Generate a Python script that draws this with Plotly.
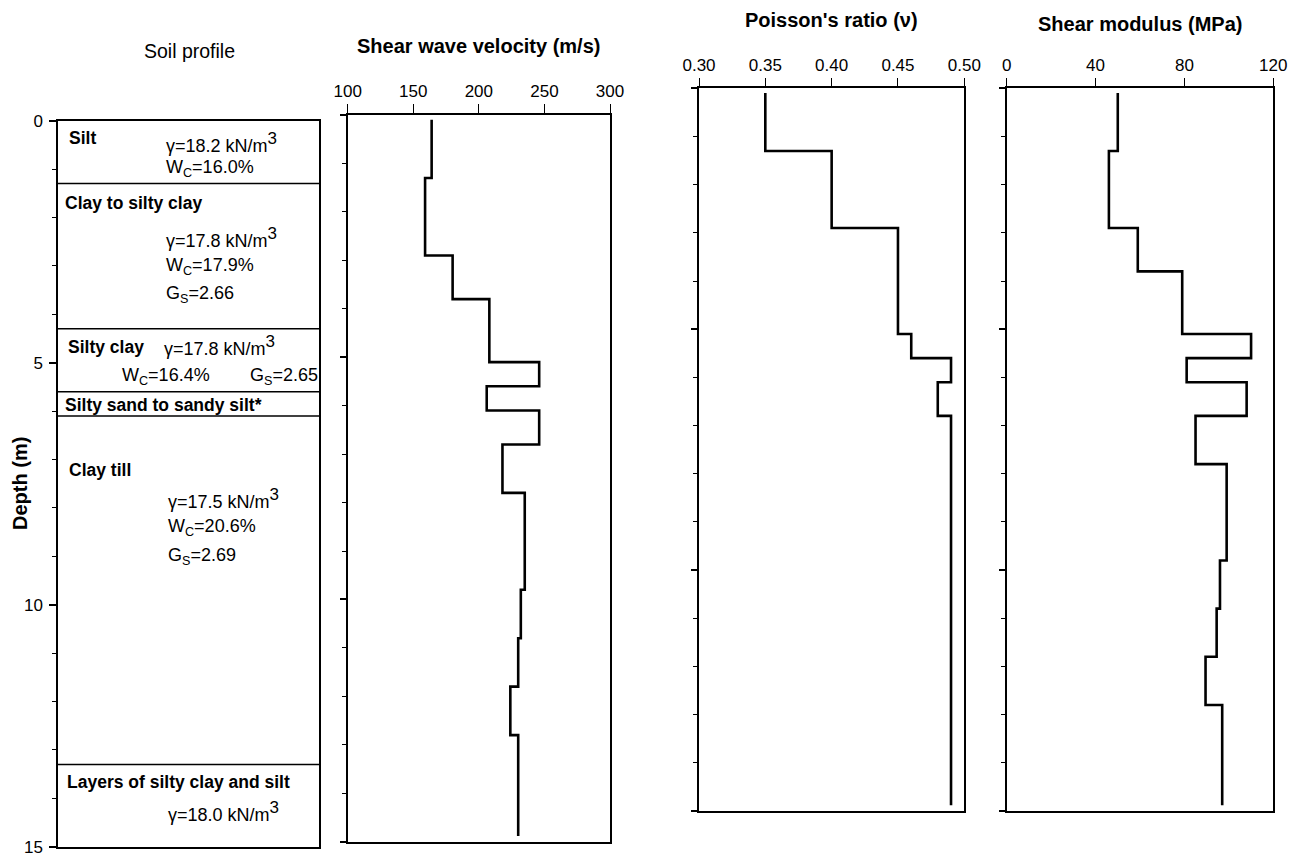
import plotly.graph_objects as go

W, H = 1299, 854
OFF = 8  # page body margin in the browser

# ---------------- data ----------------
layer_top_depth = [0.1, 1.3, 2.9, 3.8, 5.1, 5.6, 6.1, 6.8, 7.8, 9.8, 10.8, 11.8, 12.8]
profile_bottom_depth = 14.88
shear_wave_velocity = [164, 159, 180, 208, 246, 206, 246, 218, 235, 232, 230, 224, 230]
poisson_ratio = [0.35, 0.40, 0.45, 0.45, 0.46, 0.49, 0.48, 0.49, 0.49, 0.49, 0.49, 0.49, 0.49]
shear_modulus = [50, 46, 59, 79, 110, 81, 108, 85, 99, 96, 94.5, 89.5, 97]

soil_boundary_depth = [1.3, 4.3, 5.6, 6.1, 13.3]

depth_ticks = [0, 5, 10, 15]
vs_ticks = [100, 150, 200, 250, 300]
nu_ticks = [0.30, 0.35, 0.40, 0.45, 0.50]
g_ticks = [0, 40, 80, 120]

SUP3 = '<sup><span style="font-size:17px">3</span></sup>'
soil_names = ["Silt", "Clay to silty clay", "Silty clay",
              "Silty sand to sandy silt*", "Clay till",
              "Layers of silty clay and silt"]
soil_props = ["γ=18.2 kN/m" + SUP3, "W<sub>C</sub>=16.0%",
              "γ=17.8 kN/m" + SUP3, "W<sub>C</sub>=17.9%", "G<sub>S</sub>=2.66",
              "γ=17.8 kN/m" + SUP3, "W<sub>C</sub>=16.4%", "G<sub>S</sub>=2.65",
              "γ=17.5 kN/m" + SUP3, "W<sub>C</sub>=20.6%", "G<sub>S</sub>=2.69",
              "γ=18.0 kN/m" + SUP3]

# ---------------- layout helpers ----------------
FONT = "Liberation Sans, Arial, sans-serif"


def px_x(p):
    return (p - OFF) / W


def px_y(p):
    return 1 - (p - OFF) / H


def step_xy(values):
    return list(values) + [values[-1]], list(layer_top_depth) + [profile_bottom_depth]


fig = go.Figure()

for vals, xa, ya in [(shear_wave_velocity, "x2", "y2"),
                     (poisson_ratio, "x3", "y3"),
                     (shear_modulus, "x4", "y4")]:
    xs, ys = step_xy(vals)
    fig.add_trace(go.Scatter(x=xs, y=ys, xaxis=xa, yaxis=ya, mode="lines",
                             line=dict(color="black", width=2.6, shape="vh"),
                             showlegend=False, hoverinfo="skip"))

# invisible trace for the soil-profile axes
fig.add_trace(go.Scatter(x=[0, 1], y=[0, 15], xaxis="x", yaxis="y", mode="markers",
                         marker=dict(opacity=0), showlegend=False, hoverinfo="skip"))

LINE = dict(showline=True, linecolor="black", linewidth=1.5, mirror=True,
            showgrid=False, zeroline=False, automargin=False)

ydep_common = dict(range=[15, 0], tickmode="array", tickvals=depth_ticks,
                   ticks="outside", tickcolor="black", tickwidth=1.5,
                   minor=dict(dtick=1, ticks="outside", ticklen=4, tickcolor="black", tickwidth=1.3),
                   **LINE)

xtop_common = dict(side="top", ticks="outside", ticklen=9, tickcolor="black", tickwidth=1.3,
                   tickfont=dict(family=FONT, size=17, color="black"), **LINE)

fig.update_layout(
    width=W, height=H,
    margin=dict(l=0, r=0, t=0, b=0, pad=0, autoexpand=False),
    paper_bgcolor="white", plot_bgcolor="white",
    font=dict(family=FONT, color="black"),
    # soil profile
    xaxis=dict(domain=[px_x(58), px_x(319)], range=[0, 1], showticklabels=False,
               ticks="", anchor="y", **LINE),
    yaxis=dict(domain=[px_y(846.7), px_y(120.7)], anchor="x", ticklen=7,
               ticklabelstandoff=3,
               tickfont=dict(family=FONT, size=17, color="black"), **ydep_common),
    # shear wave velocity
    xaxis2=dict(domain=[px_x(347.7), px_x(610)], range=[100, 300], tickvals=vs_ticks,
                anchor="y2", **xtop_common),
    yaxis2=dict(domain=[px_y(841.7), px_y(115)], anchor="x2", ticklen=6,
                showticklabels=False, **ydep_common),
    # Poisson's ratio
    xaxis3=dict(domain=[px_x(699), px_x(964.3)], range=[0.30, 0.50], tickvals=nu_ticks,
                tickformat=".2f", anchor="y3", **xtop_common),
    yaxis3=dict(domain=[px_y(811), px_y(88.3)], anchor="x3", ticklen=6,
                showticklabels=False, **ydep_common),
    # shear modulus
    xaxis4=dict(domain=[px_x(1006.7), px_x(1273.3)], range=[0, 120], tickvals=g_ticks,
                anchor="y4", **xtop_common),
    yaxis4=dict(domain=[px_y(811), px_y(88.3)], anchor="x4", ticklen=6,
                showticklabels=False, **ydep_common),
)

# layer boundaries in the soil column
for d in soil_boundary_depth:
    fig.add_shape(type="line", xref="x domain", yref="y", x0=0, x1=1, y0=d, y1=d,
                  line=dict(color="black", width=1.5))

# layer names (bold)
name_pos = [(0.036, 0.35), (0.020, 1.69), (0.030, 4.68), (0.020, 5.87), (0.036, 7.22), (0.027, 13.66)]
for txt, (x, y) in zip(soil_names, name_pos):
    fig.add_annotation(x=x, y=y, xref="x", yref="y", text="<b>%s</b>" % txt,
                       showarrow=False, xanchor="left", yanchor="middle",
                       font=dict(family=FONT, size=17.5, color="black"))

prop_pos = [(0.408, 0.44), (0.408, 0.98),
            (0.408, 2.42), (0.408, 3.02), (0.408, 3.59),
            (0.398, 4.64), (0.236, 5.29), (0.729, 5.29),
            (0.412, 7.80), (0.412, 8.41), (0.412, 9.01),
            (0.412, 14.27)]
for txt, (x, y) in zip(soil_props, prop_pos):
    fig.add_annotation(x=x, y=y, xref="x", yref="y", text=txt,
                       showarrow=False, xanchor="left", yanchor="middle",
                       font=dict(family=FONT, size=18, color="black"))

# panel titles
titles = [("Soil profile", 189, 51, False),
          ("Shear wave velocity (m/s)", 478.5, 46, True),
          ("Poisson's ratio (ν)", 831, 20, True),
          ("Shear modulus (MPa)", 1140, 24, True)]
for txt, x, y, bold in titles:
    fig.add_annotation(x=px_x(x), y=px_y(y), xref="paper", yref="paper",
                       text=("<b>%s</b>" % txt) if bold else txt, showarrow=False,
                       xanchor="center", yanchor="middle",
                       font=dict(family=FONT, size=20 if bold else 19.5, color="black"))

fig.add_annotation(x=px_x(20), y=px_y(484), xref="paper", yref="paper",
                   text="<b>Depth (m)</b>", textangle=-90, showarrow=False,
                   xanchor="center", yanchor="middle",
                   font=dict(family=FONT, size=20, color="black"))

fig.write_html("out.html")
